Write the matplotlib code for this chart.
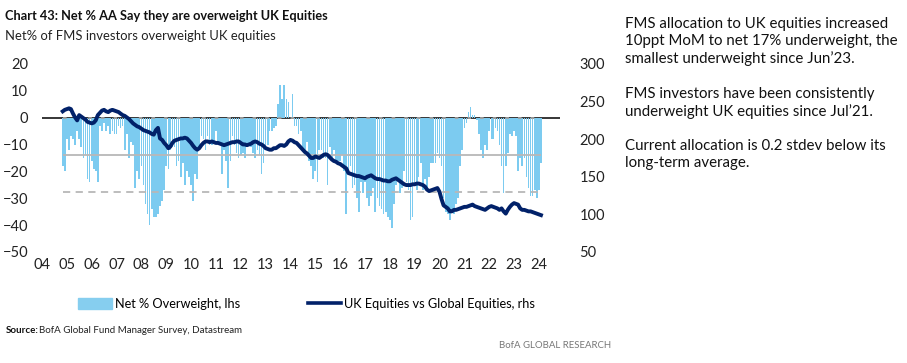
import numpy as np
import pandas as pd
import matplotlib
matplotlib.use("Agg")
import matplotlib.pyplot as plt
from matplotlib.patches import Patch
from matplotlib.lines import Line2D

plt.rcParams['font.family'] = ['Lato', 'DejaVu Sans']

# monthly data, Nov 2004 .. Feb 2024
start = "2004-11-01"
end = "2024-02-01"

net_overweight = [
    -18, -20,
    -8, -12, -7, -8, -10, -5, -8, -11, -15, -14, -23, -24,      # 2005
    -16, -19, -20, -24, -3, -5, -2, -5, -3, -6, -5, -6,         # 2006
    -6, -3, -4, -3, -12, -6, -15, -9, -10, -26, -20, -23,       # 2007
    -18, -25, -32, -36, -40, -34, -37, -37, -36, -33, -31, -27, # 2008
    -18, -19, -12, -11, -11, -18, -16, -22, -17, -25, -20, -22, # 2009
    -25, -31, -21, -23, -12, -7, -8, -12, -7, -10, -10, -9,     # 2010
    -5, -9, -9, -21, -12, -16, -26, -16, -7, -10, -13, -15,     # 2011
    -14, -13, -15, -11, -10, -11, -13, -15, -12, -14, -21, -17, # 2012
    -12, -10, -5, -5, -4, -3, 5, 12, 7, 12, 7, 6,               # 2013
    0, 9, -3, -3, -6, -5, -12, -14, -9, -16, -18, -23,          # 2014
    -20, -24, -12, -12, -15, -15, -25, -11, -16, -12, -16, -16, # 2015
    -16, -14, -20, -36, -21, -18, -26, -25, -30, -35, -24, -28, # 2016
    -24, -30, -33, -29, -26, -35, -30, -33, -34, -36, -35, -37, # 2017
    -38, -41, -32, -25, -23, -28, -26, -20, -24, -27, -38, -37, # 2018
    -25, -27, -22, -17, -27, -23, -27, -22, -17, -17, -17, -13, # 2019
    -15, -18, -30, -35, -36, -38, -34, -36, -32, -30, -18, -12, # 2020
    -4, -2, 2, 4, 1, 1, -1, -6, -12, -15, -10, -12,             # 2021
    -5, -8, -8, -4, -5, -10, -18, -28, -18, -13, -6, -7,        # 2022
    -5, -7, -20, -15, -18, -15, -22, -26, -29, -29, -27, -30,   # 2023
    -27, -17,                                                   # 2024
]

uk_vs_global = [
    237, 239,
    240, 241, 240, 234, 229, 225, 232, 230, 228, 226, 223, 222, # 2005
    221, 222, 225, 232, 235, 238, 239, 237, 236, 238, 239, 238, # 2006
    237, 236, 234, 232, 231, 229, 227, 224, 221, 219, 217, 216, # 2007
    214, 212, 211, 210, 209, 207, 206, 212, 215, 201, 199, 195, # 2008
    192, 188, 190, 195, 198, 199, 200, 201, 201, 202, 201, 198, # 2009
    195, 191, 188, 186, 188, 192, 195, 197, 197, 196, 197, 196, # 2010
    195, 195, 194, 193, 192, 193, 194, 195, 196, 196, 197, 197, # 2011
    195, 193, 193, 192, 193, 194, 196, 197, 196, 194, 193, 191, # 2012
    188, 187, 186, 186, 188, 188, 190, 192, 192, 191, 193, 197, # 2013
    199, 198, 196, 195, 192, 189, 186, 183, 181, 178, 175, 175, # 2014
    177, 176, 175, 177, 179, 180, 179, 176, 173, 171, 170, 168, # 2015
    167, 165, 163, 161, 155, 154, 153, 152, 151, 151, 150, 149, # 2016
    148, 150, 151, 152, 150, 148, 147, 147, 146, 145, 145, 144, # 2017
    144, 146, 147, 148, 146, 144, 142, 140, 139, 139, 139, 140, # 2018
    140, 141, 141, 140, 139, 137, 133, 131, 132, 133, 134, 135, # 2019
    130, 120, 112, 110, 108, 104, 104, 106, 106, 107, 108, 109, # 2020
    110, 110, 111, 112, 113, 111, 110, 109, 108, 107, 106, 108, # 2021
    110, 111, 110, 109, 108, 106, 108, 104, 101, 106, 110, 113, # 2022
    115, 114, 113, 108, 106, 106, 105, 104, 104, 103, 102, 101, # 2023
    100, 99,                                                    # 2024
]

avg_level = -14
stdev_lines = [-0.3, -27.7]

year_labels = ["04", "05", "06", "07", "08", "09", "10", "11", "12", "13", "14",
               "15", "16", "17", "18", "19", "20", "21", "22", "23", "24"]

notes = [
    "FMS allocation to UK equities increased\n10ppt MoM to net 17% underweight, the\nsmallest underweight since Jun\u201923.",
    "FMS investors have been consistently\nunderweight UK equities since Jul\u201921.",
    "Current allocation is 0.2 stdev below its\nlong-term average.",
]

dates = pd.date_range(start, end, freq="MS")
bar_col = "#7CCBF0"
line_col = "#012169"

fig = plt.figure(figsize=(9.07, 3.63), dpi=100)
ax = fig.add_axes([0.0463, 0.3058, 0.571, 0.518])
ax2 = ax.twinx()

ax.bar(dates, net_overweight, width=24, color=bar_col, linewidth=0, zorder=2)
ax.axhline(0, color="black", lw=1.1, zorder=1)
ax.hlines(avg_level, dates[0], dates[-1], color="#b8b8b8", lw=1.3, zorder=3)
ax.hlines(stdev_lines[1], dates[0], dates[-1], color="#b8b8b8", lw=1.3,
          linestyles=(0, (4, 3)), zorder=3)
ax.hlines(stdev_lines[0], dates[0], dates[-1], color="#a0a0a0", lw=1.3,
          linestyles=(0, (2, 5)), zorder=3)

ax2.plot(dates, uk_vs_global, color=line_col, lw=2.8, zorder=4)

x0 = pd.Timestamp("2004-01-01")
x1 = pd.Timestamp("2024-11-05")
ax.set_xlim(x0, x1)
ax.set_ylim(-50, 20)
ax2.set_ylim(50, 300)
ax.set_yticks(range(-50, 21, 10))
ax2.set_yticks(range(50, 301, 50))
ax.set_xticks([pd.Timestamp(f"20{y}-01-01") for y in year_labels])
ax.set_xticklabels(year_labels)

for a in (ax, ax2):
    for s in a.spines.values():
        s.set_visible(False)
    a.tick_params(length=0, labelsize=10.5, colors="#222222")
ax.tick_params(axis="y", pad=10)
ax2.tick_params(axis="y", pad=14)
ax.tick_params(axis="x", pad=4)
ax2.set_zorder(ax.get_zorder() + 1)
ax2.patch.set_visible(False)

fig.text(0.006, 0.955, "Chart 43: Net % AA Say they are overweight UK Equities",
         fontsize=9.2, fontweight="bold", va="center", ha="left", color="#111111")
fig.text(0.006, 0.90, "Net% of FMS investors overweight UK equities",
         fontsize=9.4, va="center", ha="left", color="#222222")

handles = [Patch(color="#86CEEF", label="Net % Overweight, lhs"),
           Line2D([0], [0], color=line_col, lw=2.6, label="UK Equities vs Global Equities, rhs")]
fig.legend(handles=handles, loc="center", bbox_to_anchor=(0.338, 0.163), ncol=2,
           frameon=False, fontsize=9.2, handlelength=2.6, handletextpad=0.25,
           columnspacing=5.3, handleheight=0.9)

fig.text(0.006, 0.09, "Source:", fontsize=7, fontweight="bold",
         va="center", ha="left", color="#111111")
fig.text(0.043, 0.09, "BofA Global Fund Manager Survey, Datastream",
         fontsize=7, va="center", ha="left", color="#222222")
fig.text(0.55, 0.047, "BofA GLOBAL RESEARCH", fontsize=6.9, va="center", ha="left",
         color="#777777")

ys = [0.953, 0.760, 0.617]
for y, t in zip(ys, notes):
    fig.text(0.689, y, t, fontsize=10.8, va="top", ha="left", color="#111111",
             linespacing=1.27)

fig.savefig("out.png", dpi=100)
